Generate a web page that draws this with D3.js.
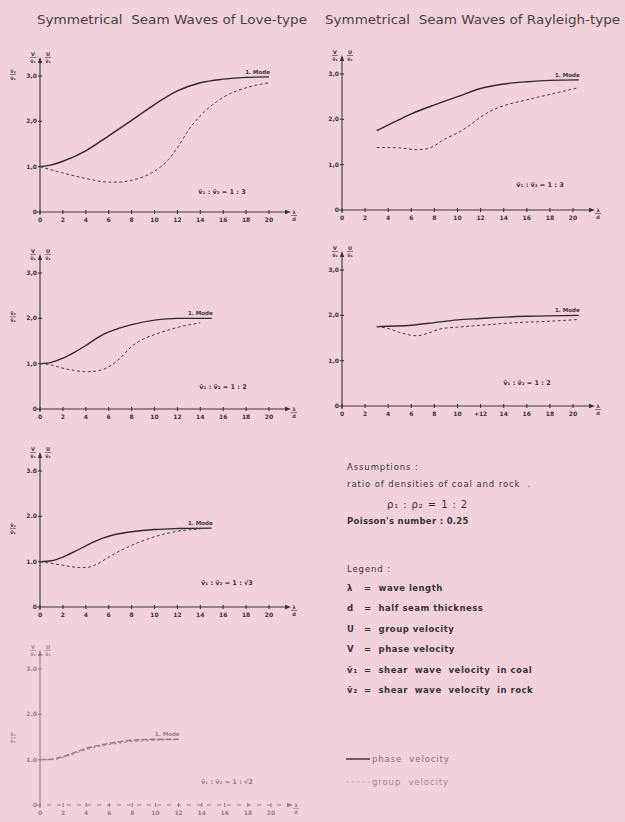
<!DOCTYPE html>
<html>
<head>
<meta charset="utf-8">
<script src="https://cdn.jsdelivr.net/npm/d3@7"></script>
<style>
  body { margin: 0; background: #f3d1dc; }
  svg { display: block; }
  text { fill: #3a3236; font-family: "DejaVu Sans", sans-serif; white-space: pre; }
  .title { font-size: 12px; fill: #4a4046; }
  .tick { font-size: 6px; font-weight: bold; }
  .small { font-size: 5px; font-weight: bold; }
  .mode { font-size: 5.5px; font-weight: bold; }
  .ratio { font-size: 6.5px; font-weight: bold; }
  .info { font-size: 8.5px; letter-spacing: 0.9px; }
  .axis { stroke: #3a3438; stroke-width: 1.1; fill: none; }
  .phase { stroke: #2f2a2d; stroke-width: 1.4; fill: none; }
  .group { stroke: #4a4347; stroke-width: 1; fill: none; stroke-dasharray: 3 2.4; }
</style>
</head>
<body>
<div id="chart"></div>
<script>
// tick values and labels
var xTicks = [0, 2, 4, 6, 8, 10, 12, 14, 16, 18, 20],
    yTicks = [0, 1, 2, 3],
    yLabelsComma = ["0", "1,0", "2,0", "3,0"],
    yLabelsDot = ["0", "1.0", "2.0", "3.0"],
    xLabelsR2 = ["0", "2", "4", "6", "8", "10", "+12", "14", "16", "18", "20"];

// [lambda/d, velocity/v1]
var love13Phase = [[0, 1.0], [1, 1.04], [2, 1.12], [4, 1.35], [6, 1.68], [8, 2.02], [10, 2.37], [12, 2.67], [14, 2.85], [16, 2.93], [18, 2.97], [20, 2.98]],
    love13Group = [[0, 1.0], [2, 0.86], [4, 0.74], [6, 0.66], [7, 0.66], [8, 0.7], [10, 0.9], [11, 1.1], [12, 1.42], [13, 1.82], [14, 2.12], [16, 2.53], [18, 2.74], [20, 2.85]],
    ray13Phase = [[3, 1.75], [5, 2.0], [6, 2.12], [8, 2.32], [10, 2.5], [12, 2.68], [14, 2.78], [16, 2.83], [18, 2.86], [20.5, 2.87]],
    ray13Group = [[3, 1.38], [5, 1.37], [6.5, 1.33], [7.5, 1.36], [9, 1.58], [10, 1.7], [11, 1.86], [12, 2.05], [13, 2.2], [14, 2.3], [16, 2.43], [18, 2.55], [20.5, 2.7]],
    love12Phase = [[0, 1.0], [1, 1.03], [2, 1.12], [3, 1.25], [4, 1.4], [5, 1.57], [6, 1.7], [7, 1.79], [8, 1.86], [10, 1.96], [12, 2.0], [15, 2.0]],
    love12Group = [[0, 1.0], [1, 0.97], [2, 0.9], [3, 0.85], [4, 0.82], [5, 0.84], [6, 0.93], [7, 1.12], [8, 1.38], [9, 1.54], [10, 1.64], [12, 1.8], [14, 1.9]],
    ray12Phase = [[3, 1.75], [6, 1.78], [8, 1.84], [10, 1.9], [12, 1.93], [14, 1.96], [16, 1.98], [20.5, 2.0]],
    ray12Group = [[3, 1.75], [4, 1.71], [5, 1.62], [6.5, 1.55], [7.5, 1.61], [8.5, 1.7], [10, 1.74], [12, 1.78], [14, 1.82], [16, 1.85], [18, 1.87], [20.5, 1.91]],
    loveR3Phase = [[0, 1.0], [1, 1.02], [2, 1.1], [3, 1.22], [4, 1.35], [5, 1.47], [6, 1.56], [7, 1.62], [8, 1.66], [10, 1.71], [12, 1.73], [15, 1.74]],
    loveR3Group = [[0, 1.0], [2, 0.92], [3, 0.88], [4, 0.87], [5, 0.95], [6, 1.1], [7, 1.24], [8, 1.36], [10, 1.55], [12, 1.67], [14, 1.72]],
    loveR2Phase = [[0, 1.0], [1, 1.01], [2, 1.07], [4, 1.25], [6, 1.36], [8, 1.43], [10, 1.45], [12, 1.45]],
    loveR2Group = [[0, 1.0], [1, 1.0], [2, 1.05], [4, 1.22], [6, 1.33], [8, 1.4], [10, 1.43], [12, 1.44]];

var ratios = ["v\u0303\u2081 : v\u0303\u2082 = 1 : 3", "v\u0303\u2081 : v\u0303\u2082 = 1 : 3",
              "v\u0303\u2081 : v\u0303\u2082 = 1 : 2", "v\u0303\u2081 : v\u0303\u2082 = 1 : 2",
              "v\u0303\u2081 : v\u0303\u2082 = 1 : \u221A3", "v\u0303\u2081 : v\u0303\u2082 = 1 : \u221A2"];

// panel layout (pixels)
var panels = [
    {ox: 40, oy: 212, w: 229, phase: love13Phase, group: love13Group, yl: yLabelsComma, xl: null, ratio: ratios[0], rx: 222, ry: 194, asym: 3},
    {ox: 342, oy: 210, w: 231, phase: ray13Phase, group: ray13Group, yl: yLabelsComma, xl: null, ratio: ratios[1], rx: 540, ry: 187},
    {ox: 40, oy: 409, w: 229, phase: love12Phase, group: love12Group, yl: yLabelsComma, xl: null, ratio: ratios[2], rx: 223, ry: 389, asym: 2},
    {ox: 342, oy: 406, w: 231, phase: ray12Phase, group: ray12Group, yl: yLabelsComma, xl: xLabelsR2, ratio: ratios[3], rx: 527, ry: 385},
    {ox: 40, oy: 607, w: 229, phase: loveR3Phase, group: loveR3Group, yl: yLabelsDot, xl: null, ratio: ratios[4], rx: 227, ry: 585, asym: 1.7},
    {ox: 40, oy: 805, w: 231, phase: loveR2Phase, group: loveR2Group, yl: yLabelsDot, xl: null, ratio: ratios[5], rx: 227, ry: 784, asym: 1.45, faded: true}
];

var svg = d3.select("#chart").append("svg")
    .attr("width", 625)
    .attr("height", 822);

svg.append("text").attr("class", "title")
    .attr("x", 37).attr("y", 24)
    .attr("textLength", 270).attr("lengthAdjust", "spacingAndGlyphs")
    .text("Symmetrical  Seam Waves of Love-type");
svg.append("text").attr("class", "title")
    .attr("x", 325).attr("y", 24)
    .attr("textLength", 295).attr("lengthAdjust", "spacingAndGlyphs")
    .text("Symmetrical  Seam Waves of Rayleigh-type");

function frac(g, x, y, top, bottom) {
    g.append("text").attr("class", "small").attr("x", x).attr("y", y).attr("text-anchor", "middle").text(top);
    g.append("line").attr("x1", x - 3).attr("x2", x + 3).attr("y1", y + 1.5).attr("y2", y + 1.5)
        .attr("stroke", "#3a3236").attr("stroke-width", 0.6);
    g.append("text").attr("class", "small").attr("x", x).attr("y", y + 7).attr("text-anchor", "middle").text(bottom);
}

panels.forEach(function (p) {
    var x = d3.scaleLinear().domain([0, 20]).range([p.ox, p.ox + p.w]),
        y = d3.scaleLinear().domain([0, 3]).range([p.oy, p.oy - 136]),
        g = svg.append("g").attr("opacity", p.faded ? 0.5 : 1),
        line = d3.line().curve(d3.curveMonotoneX)
            .x(function (d) { return x(d[0]); })
            .y(function (d) { return y(d[1]); });

    // axes
    g.append("line").attr("class", "axis")
        .attr("x1", p.ox).attr("x2", p.ox).attr("y1", p.oy + 3).attr("y2", p.oy - 150);
    g.append("line").attr("class", "axis")
        .attr("x1", p.ox - 3).attr("x2", p.ox + p.w + 18).attr("y1", p.oy).attr("y2", p.oy)
        .attr("stroke-dasharray", p.faded ? "4 6" : null);
    g.append("path").attr("fill", "#3a3438")
        .attr("d", "M" + p.ox + "," + (p.oy - 155) + "l-2.2,6h4.4z");
    g.append("path").attr("fill", "#3a3438")
        .attr("d", "M" + (p.ox + p.w + 22) + "," + p.oy + "l-6,-2.2v4.4z");

    g.selectAll(".xt").data(xTicks).enter().append("line")
        .attr("class", "axis")
        .attr("x1", function (d) { return x(d); }).attr("x2", function (d) { return x(d); })
        .attr("y1", p.oy - 2).attr("y2", p.oy + 2);
    g.selectAll(".xl").data(xTicks).enter().append("text")
        .attr("class", "tick").attr("text-anchor", "middle")
        .attr("x", function (d) { return x(d); })
        .attr("y", p.oy + 10)
        .text(function (d, i) { return p.xl ? p.xl[i] : d; });

    g.selectAll(".yt").data(yTicks.slice(1)).enter().append("line")
        .attr("class", "axis")
        .attr("x1", p.ox - 2).attr("x2", p.ox + 2)
        .attr("y1", function (d) { return y(d); }).attr("y2", function (d) { return y(d); });
    g.selectAll(".yl").data(yTicks).enter().append("text")
        .attr("class", "tick").attr("text-anchor", "end")
        .attr("x", p.ox - 3)
        .attr("y", function (d) { return y(d) + 2; })
        .text(function (d, i) { return p.yl[i]; });

    // axis captions
    frac(g, p.ox - 7, p.oy - 156, "V", "v\u0303\u2081");
    frac(g, p.ox + 8, p.oy - 156, "U", "v\u0303\u2081");
    frac(g, p.ox + p.w + 25, p.oy + 2, "\u03BB", "d");
    if (p.asym) {
        frac(g, p.ox - 27, y(p.asym) - 3, "v\u0303\u2082", "v\u0303\u2081");
    }

    // curves
    g.append("path").attr("class", "phase").attr("d", line(p.phase))
        .attr("stroke-dasharray", p.faded ? "6 2" : null);
    g.append("path").attr("class", "group").attr("d", line(p.group));

    var last = p.phase[p.phase.length - 1];
    g.append("text").attr("class", "mode").attr("text-anchor", "end")
        .attr("x", x(last[0]) + 1).attr("y", y(last[1]) - 3)
        .text("1. Mode");

    g.append("text").attr("class", "ratio").attr("text-anchor", "middle")
        .attr("x", p.rx).attr("y", p.ry)
        .text(p.ratio);
});

// assumptions and legend
var assumptions = ["Assumptions :", "ratio of densities of coal and rock  .", "\u03C1\u2081 : \u03C1\u2082 = 1 : 2", "Poisson's number : 0.25"],
    legendSym = ["\u03BB", "d", "U", "V", "v\u0303\u2081", "v\u0303\u2082"],
    legendText = ["wave length", "half seam thickness", "group velocity", "phase velocity",
                  "shear  wave  velocity  in coal", "shear  wave  velocity  in rock"];

var info = svg.append("g");
info.append("text").attr("class", "info").attr("x", 347).attr("y", 470).text(assumptions[0]);
info.append("text").attr("class", "info").attr("x", 347).attr("y", 487).text(assumptions[1]);
info.append("text").attr("class", "info").attr("x", 387).attr("y", 508).style("font-size", "10px").text(assumptions[2]);
info.append("text").attr("class", "info").attr("x", 347).attr("y", 524).style("font-weight", "bold").style("letter-spacing", "0.3px").text(assumptions[3]);
info.append("text").attr("class", "info").attr("x", 347).attr("y", 572).text("Legend :");

var legY = d3.scalePoint().domain(legendSym).range([591, 693]);
info.selectAll(".ls").data(legendSym).enter().append("text")
    .attr("class", "info").attr("x", 347)
    .attr("y", function (d) { return legY(d); })
    .style("font-weight", "bold")
    .text(function (d) { return d; });
info.selectAll(".lt").data(legendText).enter().append("text")
    .attr("class", "info").attr("x", 364)
    .attr("y", function (d, i) { return legY(legendSym[i]); })
    .style("font-weight", "bold").style("letter-spacing", "0.5px")
    .text(function (d) { return "=  " + d; });

info.append("line").attr("class", "phase").attr("stroke-width", 1)
    .attr("x1", 346).attr("x2", 370).attr("y1", 759).attr("y2", 759);
info.append("text").attr("class", "info").attr("x", 372).attr("y", 762).attr("opacity", 0.6).text("phase  velocity");
info.append("line").attr("class", "group").attr("opacity", 0.3)
    .attr("x1", 346).attr("x2", 370).attr("y1", 782).attr("y2", 782);
info.append("text").attr("class", "info").attr("x", 372).attr("y", 785).attr("opacity", 0.45).text("group  velocity");
</script>
</body>
</html>
